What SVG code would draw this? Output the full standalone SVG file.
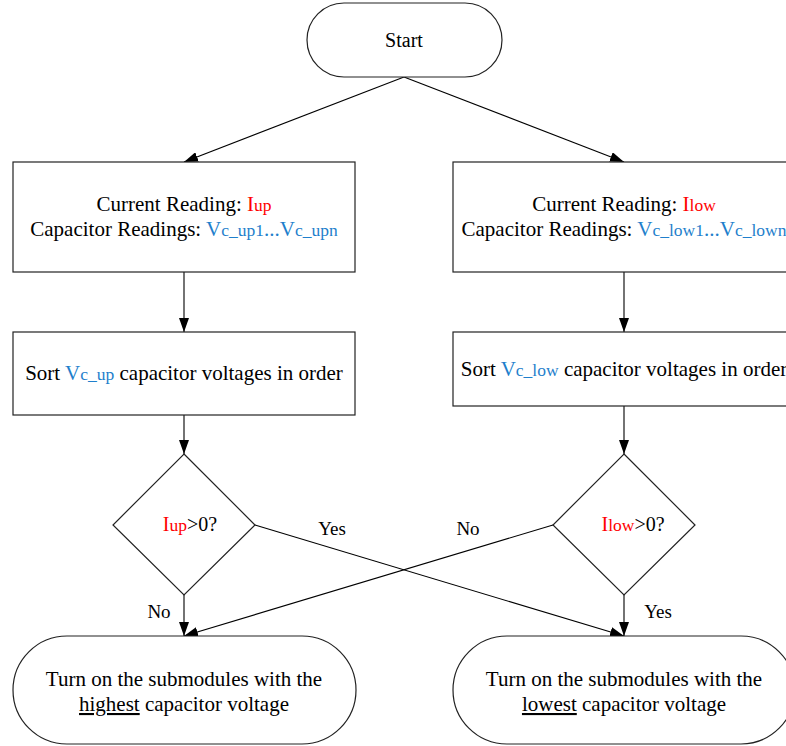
<svg xmlns="http://www.w3.org/2000/svg" width="786" height="746" viewBox="0 0 786 746">
<style>
.sh{fill:#fff;stroke:#222;stroke-width:1.2}
.t{font-family:"Liberation Serif","Times New Roman",serif;font-size:21px;fill:#000;text-anchor:middle}
.m{font-size:20px}
.l{font-size:19px}
.s{font-size:17.5px}
.r{fill:#ff0000}
.b{fill:#1f7fcc}
.c{fill:none;stroke:#000;stroke-width:1.1}
</style>
<defs>
<marker id="ah" viewBox="0 0 14 10" refX="14" refY="5" markerWidth="14" markerHeight="10" markerUnits="userSpaceOnUse" orient="auto">
<path d="M0,0 L14,5 L0,10 Z" fill="#000"/>
</marker>
</defs>
<rect width="786" height="746" fill="#fff"/>
<g id="connectors">
<line class="c" x1="404" y1="77" x2="184" y2="162" marker-end="url(#ah)"/>
<line class="c" x1="404" y1="77" x2="624" y2="162" marker-end="url(#ah)"/>
<line class="c" x1="184" y1="272" x2="184" y2="332" marker-end="url(#ah)"/>
<line class="c" x1="624" y1="272" x2="624" y2="332" marker-end="url(#ah)"/>
<line class="c" x1="184" y1="415" x2="184" y2="454" marker-end="url(#ah)"/>
<line class="c" x1="624" y1="406" x2="624" y2="454" marker-end="url(#ah)"/>
<line class="c" x1="184" y1="595" x2="184" y2="636" marker-end="url(#ah)"/>
<line class="c" x1="255" y1="525" x2="624" y2="636" marker-end="url(#ah)"/>
<line class="c" x1="553" y1="525" x2="184" y2="636" marker-end="url(#ah)"/>
<line class="c" x1="624" y1="595" x2="624" y2="636" marker-end="url(#ah)"/>
<text class="t l" x="332" y="535">Yes</text>
<text class="t l" x="159" y="618">No</text>
<text class="t l" x="468" y="535">No</text>
<text class="t l" x="658" y="618">Yes</text>
</g>
<g id="start">
<rect class="sh" x="307" y="3" width="195" height="74" rx="37" ry="37"/>
<text class="t m" x="404" y="47">Start</text>
</g>
<g id="read-up">
<rect class="sh" x="13" y="162" width="342" height="110"/>
<text class="t" x="184" y="211">Current Reading: <tspan class="r">I<tspan class="s">up</tspan></tspan></text>
<text class="t" x="184" y="236">Capacitor Readings: <tspan class="b">V<tspan class="s">c_up1</tspan>...V<tspan class="s">c_upn</tspan></tspan></text>
</g>
<g id="read-low">
<rect class="sh" x="453" y="162" width="342" height="110"/>
<text class="t" x="624" y="211">Current Reading: <tspan class="r">I<tspan class="s">low</tspan></tspan></text>
<text class="t" x="624" y="236">Capacitor Readings: <tspan class="b">V<tspan class="s">c_low1</tspan>...V<tspan class="s">c_lown</tspan></tspan></text>
</g>
<g id="sort-up">
<rect class="sh" x="13" y="332" width="342" height="83"/>
<text class="t" x="184" y="380">Sort <tspan class="b">V<tspan class="s">c_up</tspan></tspan> capacitor voltages in order</text>
</g>
<g id="sort-low">
<rect class="sh" x="453" y="332" width="342" height="74"/>
<text class="t" x="624" y="376">Sort <tspan class="b">V<tspan class="s">c_low</tspan></tspan> capacitor voltages in order</text>
</g>
<g id="dec-up">
<polygon class="sh" points="184,454 255,525 184,595 113,525"/>
<text class="t m" x="190" y="531"><tspan class="r">I<tspan class="s">up</tspan></tspan>&gt;0?</text>
</g>
<g id="dec-low">
<polygon class="sh" points="624,454 695,525 624,595 553,525"/>
<text class="t m" x="633" y="531"><tspan class="r">I<tspan class="s">low</tspan></tspan>&gt;0?</text>
</g>
<g id="on-high">
<rect class="sh" x="13" y="636" width="343" height="108" rx="54" ry="54"/>
<text class="t" x="184" y="686">Turn on the submodules with the</text>
<text class="t" x="184" y="711"><tspan text-decoration="underline">highest</tspan> capacitor voltage</text>
</g>
<g id="on-low">
<rect class="sh" x="453" y="636" width="342" height="108" rx="54" ry="54"/>
<text class="t" x="624" y="686">Turn on the submodules with the</text>
<text class="t" x="624" y="711"><tspan text-decoration="underline">lowest</tspan> capacitor voltage</text>
</g>
</svg>
